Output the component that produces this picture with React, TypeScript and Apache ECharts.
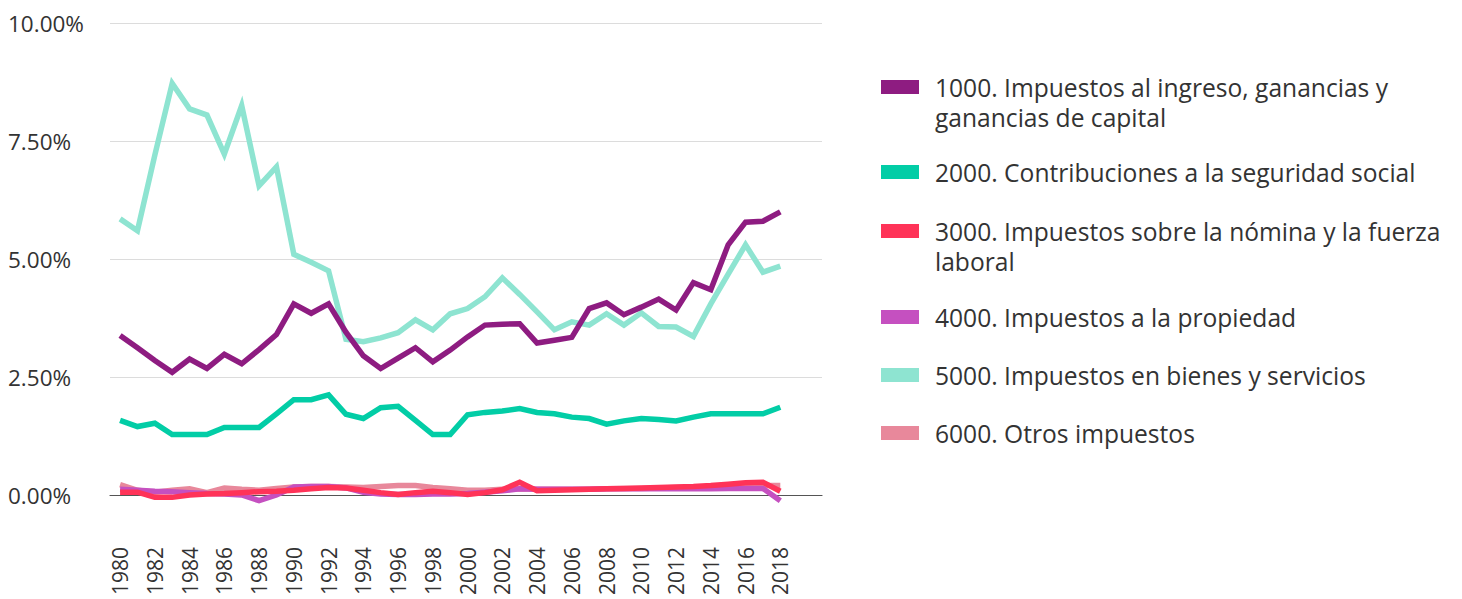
import { useEffect, useRef } from 'react';
import * as echarts from 'echarts';

const years = [
  1980, 1981, 1982, 1983, 1984, 1985, 1986, 1987, 1988, 1989,
  1990, 1991, 1992, 1993, 1994, 1995, 1996, 1997, 1998, 1999,
  2000, 2001, 2002, 2003, 2004, 2005, 2006, 2007, 2008, 2009,
  2010, 2011, 2012, 2013, 2014, 2015, 2016, 2017, 2018,
];
const xLabelYears = [
  1980, 1982, 1984, 1986, 1988, 1990, 1992, 1994, 1996, 1998,
  2000, 2002, 2004, 2006, 2008, 2010, 2012, 2014, 2016, 2018,
];
const yTicks = [0, 2.5, 5, 7.5, 10];

const s1000 = [3.38, 3.12, 2.85, 2.6, 2.88, 2.68, 2.98, 2.78, 3.08, 3.4, 4.05, 3.85, 4.05, 3.45, 2.95, 2.68, 2.9, 3.12, 2.82, 3.07, 3.35, 3.6, 3.62, 3.63, 3.22, 3.28, 3.34, 3.95, 4.07, 3.82, 3.98, 4.15, 3.92, 4.5, 4.35, 5.3, 5.78, 5.8, 6.0];
const s2000 = [1.58, 1.45, 1.52, 1.28, 1.28, 1.28, 1.43, 1.43, 1.43, 1.72, 2.02, 2.02, 2.12, 1.71, 1.62, 1.85, 1.88, 1.58, 1.28, 1.28, 1.7, 1.75, 1.78, 1.83, 1.75, 1.72, 1.65, 1.62, 1.5, 1.57, 1.62, 1.6, 1.57, 1.65, 1.72, 1.72, 1.72, 1.72, 1.86];
const s3000 = [0.06, 0.06, -0.05, -0.05, 0.0, 0.02, 0.03, 0.05, 0.07, 0.08, 0.1, 0.13, 0.16, 0.15, 0.1, 0.05, 0.01, 0.05, 0.08, 0.05, 0.01, 0.05, 0.11, 0.27, 0.09, 0.1, 0.11, 0.12, 0.13, 0.14, 0.15, 0.16, 0.17, 0.18, 0.2, 0.23, 0.26, 0.27, 0.08];
const s4000 = [0.12, 0.1, 0.08, 0.07, 0.05, 0.03, 0.02, 0.0, -0.12, 0.0, 0.17, 0.18, 0.18, 0.15, 0.06, 0.02, 0.01, 0.01, 0.02, 0.02, 0.03, 0.06, 0.09, 0.13, 0.12, 0.12, 0.12, 0.12, 0.13, 0.13, 0.13, 0.13, 0.13, 0.13, 0.13, 0.14, 0.14, 0.14, -0.12];
const s5000 = [5.85, 5.6, 7.2, 8.72, 8.18, 8.05, 7.22, 8.25, 6.55, 6.95, 5.1, 4.93, 4.75, 3.3, 3.25, 3.33, 3.44, 3.71, 3.5, 3.84, 3.95, 4.2, 4.6, 4.25, 3.88, 3.5, 3.67, 3.6, 3.84, 3.6, 3.86, 3.57, 3.56, 3.36, 4.05, 4.68, 5.3, 4.72, 4.85];
const s6000 = [0.22, 0.1, 0.06, 0.1, 0.13, 0.05, 0.15, 0.12, 0.1, 0.14, 0.17, 0.18, 0.18, 0.17, 0.16, 0.18, 0.2, 0.2, 0.16, 0.13, 0.1, 0.1, 0.12, 0.13, 0.12, 0.12, 0.12, 0.12, 0.13, 0.14, 0.14, 0.15, 0.16, 0.17, 0.17, 0.18, 0.19, 0.2, 0.2];

const seriesNames = [
  '1000. Impuestos al ingreso, ganancias y ganancias de capital',
  '2000. Contribuciones a la seguridad social',
  '3000. Impuestos sobre la nómina y la fuerza laboral',
  '4000. Impuestos a la propiedad',
  '5000. Impuestos en bienes y servicios',
  '6000. Otros impuestos',
];
const legendLines = [
  ['1000. Impuestos al ingreso, ganancias y', 'ganancias de capital'],
  ['2000. Contribuciones a la seguridad social'],
  ['3000. Impuestos sobre la nómina y la fuerza', 'laboral'],
  ['4000. Impuestos a la propiedad'],
  ['5000. Impuestos en bienes y servicios'],
  ['6000. Otros impuestos'],
];
const seriesValues = [s1000, s2000, s3000, s4000, s5000, s6000];
const colors = ['#8e1c81', '#02cda6', '#ff3358', '#c550c0', '#8ee4d1', '#e8889b'];
const legendFirstLineY = [87, 172, 231, 317, 375, 433];

const FONT = '"Open Sans", Lato, sans-serif';
const LH = 30;

export default function App() {
  const ref = useRef<HTMLDivElement>(null);
  useEffect(() => {
    document.body.style.margin = '0';
    const chart = echarts.init(ref.current!, null, { renderer: 'svg' });

    const order = [5, 4, 3, 2, 1, 0];
    const series = order.map((i) => ({
      name: seriesNames[i],
      type: 'line',
      data: years.map((y, k) => [y, seriesValues[i][k]]),
      color: colors[i],
      showSymbol: false,
      symbol: 'none',
      clip: false,
      lineStyle: { width: 5.5, color: colors[i], join: 'miter' },
      emphasis: { disabled: true },
    }));

    const legends = seriesNames.map((n, i) => {
      const lines = legendLines[i];
      const twoLine = lines.length > 1;
      const label = twoLine ? '\n' + lines.join('\n') : lines[0];
      const top = twoLine ? legendFirstLineY[i] - 1.5 * LH : legendFirstLineY[i] - 0.5 * LH;
      return {
        left: 881,
        top,
        orient: 'vertical',
        padding: 0,
        itemWidth: 38,
        itemHeight: 14,
        icon: 'rect',
        selectedMode: false,
        data: [n],
        formatter: () => label,
        textStyle: {
          fontFamily: FONT,
          fontSize: 24.6,
          lineHeight: LH,
          color: '#333',
          padding: [0, 0, 0, 11],
        },
      };
    });

    chart.setOption({
      animation: false,
      grid: { left: 110, right: 640, top: 23, bottom: 104, containLabel: false },
      legend: legends,
      xAxis: {
        type: 'value',
        min: 1979.42,
        max: 2020.4,
        axisLine: { show: true, onZero: true, lineStyle: { color: '#555', width: 1.2 } },
        axisTick: { show: false },
        splitLine: { show: false },
        axisLabel: {
          customValues: xLabelYears,
          rotate: 90,
          margin: 52,
          fontFamily: FONT,
          fontSize: 21,
          color: '#333',
          formatter: (v: number) => String(v),
        },
      },
      yAxis: {
        type: 'value',
        min: yTicks[0],
        max: yTicks[yTicks.length - 1],
        interval: 2.5,
        axisLine: { show: false },
        axisTick: { show: false },
        splitLine: { lineStyle: { color: '#dcdcdc', width: 1 } },
        axisLabel: {
          align: 'left',
          margin: 102,
          fontFamily: FONT,
          fontSize: 22.5,
          color: '#333',
          formatter: (v: number) => v.toFixed(2) + '%',
        },
      },
      series,
    });
    return () => chart.dispose();
  }, []);
  return <div ref={ref} style={{ width: 1462, height: 599 }} />;
}
